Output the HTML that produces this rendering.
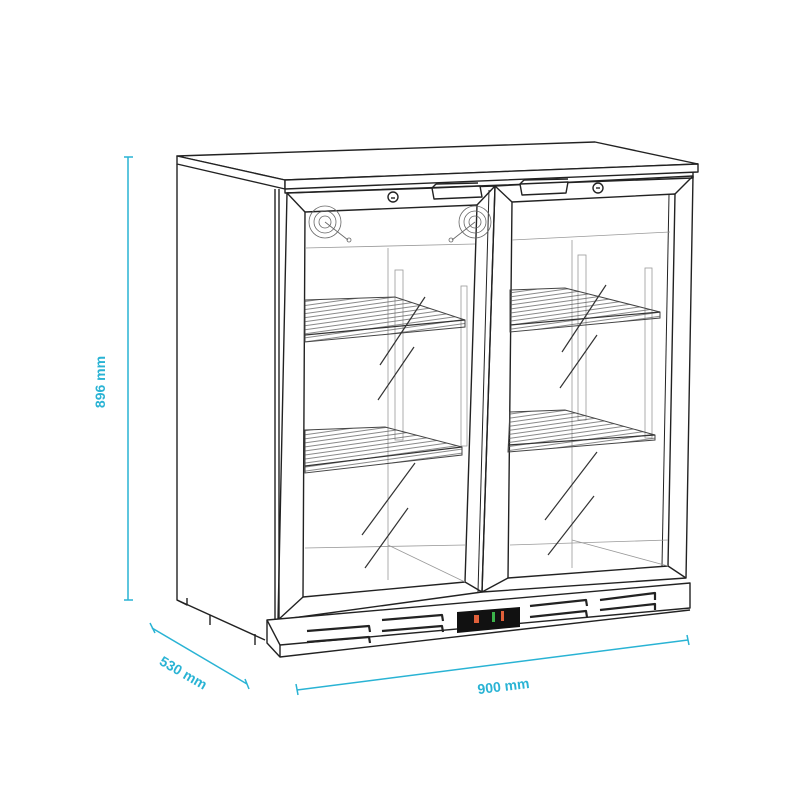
<!DOCTYPE html>
<html><head><meta charset="utf-8"><style>
html,body{margin:0;padding:0;background:#fff}
svg{display:block}
text{font-family:"Liberation Sans",sans-serif;font-weight:bold;fill:#29b3d4;font-size:14px}
</style></head><body>
<svg width="800" height="800" viewBox="0 0 800 800" xmlns="http://www.w3.org/2000/svg">
<defs>
<pattern id="h" width="4" height="4" patternUnits="userSpaceOnUse" patternTransform="rotate(-8)">
<line x1="0" y1="1" x2="4" y2="1" stroke="#555" stroke-width="0.7"/>
</pattern>
</defs>
<g fill="none" stroke="#222" stroke-width="1.4" stroke-linejoin="round">
<!-- top slab -->
<polygon points="177,156 595,142 698,164 285,180" fill="#fff"/>
<polygon points="177,156 285,180 285,189 177,164" fill="#fff"/>
<polygon points="285,180 698,164 698,172 285,189" fill="#fff"/>
<!-- side panel -->
<polyline points="177,164 177,600 265,640"/>
<polyline points="177,600 187,605 187,598"/>
<line x1="210" y1="615" x2="210" y2="625"/>
<line x1="255" y1="634" x2="255" y2="645"/>
<line x1="275" y1="189" x2="275" y2="620"/>
<line x1="279" y1="189" x2="279" y2="620"/>
<!-- front frame below slab -->
<polyline points="285,189 285,193 693,178 693,172"/>
<!-- left door -->
<polygon points="287,193 495,186 482,592 278,620"/>
<polygon points="305,212 477,205 465,582 303,597"/>
<line x1="287" y1="193" x2="305" y2="212"/><line x1="495" y1="186" x2="477" y2="205"/>
<line x1="482" y1="592" x2="465" y2="582"/><line x1="278" y1="620" x2="303" y2="597"/>
<!-- right door -->
<polygon points="495,186 693,176 686,578 482,592"/>
<polygon points="512,202 675,194 668,566 508,578"/>
<line x1="495" y1="186" x2="512" y2="202"/><line x1="693" y1="176" x2="675" y2="194"/>
<line x1="686" y1="578" x2="668" y2="566"/><line x1="482" y1="592" x2="508" y2="578"/>
<line x1="489" y1="190" x2="478" y2="592" stroke-width="1"/>
<line x1="669" y1="195" x2="662" y2="566" stroke-width="1"/>
<!-- handles -->
<polygon points="432,188 480,186 482,197 434,199" fill="#fff"/>
<line x1="432" y1="188" x2="436" y2="184"/><line x1="436" y1="184" x2="478" y2="183"/>
<polygon points="520,184 568,182 566,193 522,195" fill="#fff"/>
<line x1="520" y1="184" x2="524" y2="180"/><line x1="524" y1="180" x2="568" y2="179"/>
<!-- locks -->
<circle cx="393" cy="197" r="5"/><line x1="391" y1="198" x2="395" y2="198"/>
<circle cx="598" cy="188" r="5"/><line x1="596" y1="188" x2="600" y2="188"/>
</g>
<!-- fans -->
<g fill="none" stroke="#666" stroke-width="0.8">
<circle cx="325" cy="222" r="16"/><circle cx="325" cy="222" r="11"/><circle cx="325" cy="222" r="6"/>
<line x1="325" y1="222" x2="348" y2="240"/><circle cx="349" cy="240" r="2"/>
<circle cx="475" cy="222" r="16"/><circle cx="475" cy="222" r="11"/><circle cx="475" cy="222" r="6"/>
<line x1="475" y1="222" x2="452" y2="240"/><circle cx="451" cy="240" r="2"/>
</g>
<!-- interior thin lines -->
<g fill="none" stroke="#999" stroke-width="0.8">
<line x1="305" y1="248" x2="475" y2="244"/>
<line x1="512" y1="240" x2="670" y2="232"/>
<line x1="388" y1="248" x2="388" y2="580"/>
<line x1="572" y1="240" x2="572" y2="568"/>
<line x1="305" y1="548" x2="465" y2="545"/>
<line x1="510" y1="545" x2="668" y2="540"/>
<line x1="388" y1="545" x2="465" y2="582"/>
<line x1="572" y1="540" x2="668" y2="566"/>
<rect x="395" y="270" width="8" height="170"/>
<rect x="461" y="286" width="6" height="160"/>
<rect x="578" y="255" width="8" height="165"/>
<rect x="645" y="268" width="7" height="170"/>
</g>
<!-- shelves -->
<g stroke="#444" stroke-width="1">
<polygon points="305,300 395,297 465,320 465,327 305,342" fill="url(#h)"/>
<polygon points="305,430 385,427 462,447 462,455 305,473" fill="url(#h)"/>
<polygon points="510,290 565,288 660,312 660,318 510,332" fill="url(#h)"/>
<polygon points="510,412 565,410 655,435 655,440 508,452" fill="url(#h)"/>
</g>
<g stroke="#333" stroke-width="1.2" fill="none">
<line x1="305" y1="335" x2="465" y2="320"/>
<line x1="305" y1="466" x2="462" y2="447"/>
<line x1="510" y1="325" x2="660" y2="312"/>
<line x1="508" y1="445" x2="655" y2="435"/>
<!-- reflections -->
<line x1="425" y1="297" x2="380" y2="365"/><line x1="414" y1="347" x2="378" y2="400"/>
<line x1="415" y1="463" x2="362" y2="535"/><line x1="408" y1="508" x2="365" y2="568"/>
<line x1="606" y1="285" x2="562" y2="352"/><line x1="597" y1="335" x2="560" y2="388"/>
<line x1="597" y1="452" x2="545" y2="520"/><line x1="594" y1="496" x2="548" y2="555"/>
</g>
<!-- base plinth -->
<g fill="none" stroke="#222" stroke-width="1.4" stroke-linejoin="round">
<polygon points="267,620 690,583 690,608 280,645" fill="#fff"/>
<polyline points="267,620 267,643 280,657 690,610"/>
<line x1="280" y1="645" x2="280" y2="657"/>
<g stroke-width="2.2">
<polyline points="307,631 369,626 370,632"/><polyline points="307,642 369,637 370,643"/>
<polyline points="382,620 442,615 443,621"/><polyline points="382,631 442,626 443,632"/>
<polyline points="530,606 586,600 587,606"/><polyline points="530,617 586,611 587,617"/>
<polyline points="600,600 655,593 655,600"/><polyline points="600,610 655,604 655,610"/>
</g>
</g>
<polygon points="457,612 520,607 520,627 457,633" fill="#111"/>
<rect x="474" y="615" width="5" height="8" fill="#e0603a"/>
<rect x="492" y="612" width="3" height="10" fill="#3bb34a"/>
<rect x="501" y="611" width="3" height="10" fill="#e0603a"/>
<!-- dimensions -->
<g stroke="#29b3d4" stroke-width="1.5" fill="none">
<line x1="128" y1="157" x2="128" y2="600"/>
<line x1="124" y1="157" x2="133" y2="157"/><line x1="124" y1="600" x2="133" y2="600"/>
<line x1="152" y1="628" x2="247" y2="684"/>
<line x1="150" y1="623" x2="155" y2="633"/><line x1="245" y1="679" x2="249" y2="689"/>
<line x1="297" y1="690" x2="688" y2="640"/>
<line x1="296" y1="684" x2="298" y2="695"/><line x1="687" y1="635" x2="689" y2="645"/>
</g>
<text transform="translate(105,382) rotate(-90)" text-anchor="middle">896 mm</text>
<text transform="translate(181,677) rotate(30)" text-anchor="middle">530 mm</text>
<text transform="translate(504,691) rotate(-7)" text-anchor="middle">900 mm</text>
</svg>
</body></html>
